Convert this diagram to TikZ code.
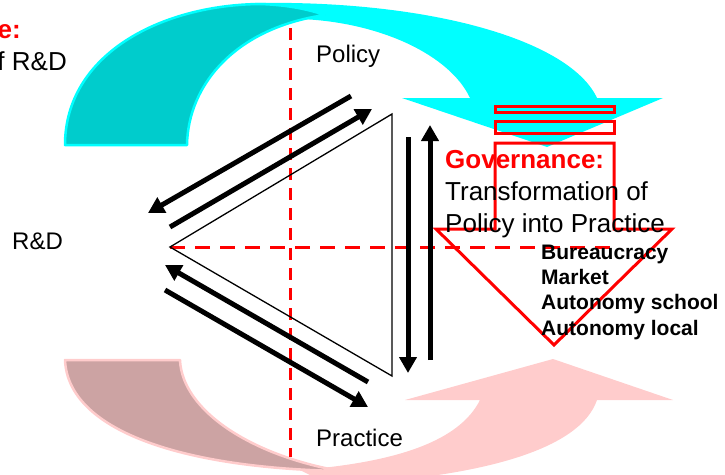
\documentclass[tikz,border=0pt]{standalone}
\usepackage{fontspec}
\setmainfont{Liberation Sans}
\usetikzlibrary{arrows.meta}
\definecolor{AquaFront}{HTML}{00FFFF}
\definecolor{AquaBack}{HTML}{00CCCC}
\definecolor{RoseFront}{HTML}{FFCCCC}
\definecolor{RoseBack}{HTML}{CCA3A3}
\definecolor{GovRed}{HTML}{FF0000}
\newcommand{\lblfont}{\fontsize{24}{29}\selectfont}
\newcommand{\govfont}{\fontsize{26}{32}\selectfont}
\newcommand{\modefont}{\fontsize{21}{25.3}\selectfont\bfseries}

\begin{document}
\begin{tikzpicture}[x=1pt, y=-1pt, font=\lblfont,
    flow/.style={line width=5pt, -{Triangle[length=16pt, width=17pt]}},
    axis/.style={GovRed, line width=3pt},
    txt/.style={inner sep=0pt, anchor=base west}]
    \useasboundingbox (0,0) rectangle (725,474);
    \clip (0,0) rectangle (725,474);
    % upper ribbon: front face with its head, then the turned-back face
    \fill[AquaFront] (255,3) .. controls (430,0) and (570,40) .. (597,98)
        -- (663,98) -- (547,147) -- (402,98) -- (470,98)
        .. controls (450,55) and (380,22) .. (300,19) -- cycle;
    \filldraw[fill=AquaBack, draw=AquaFront, line width=2.5pt, line join=round]
        (65,145) .. controls (65,55) and (160,5) .. (260,4)
        .. controls (290,5) and (310,10) .. (325,15)
        .. controls (235,28) and (188,85) .. (187,145) -- cycle;
    % lower ribbon, same build
    \fill[RoseFront] (300,470) .. controls (400,462) and (460,440) .. (480,400)
        -- (405,400) -- (553,359) -- (673,400) -- (597,400)
        .. controls (580,450) and (480,478) .. (330,485) -- cycle;
    \filldraw[fill=RoseBack, draw=RoseFront, line width=2.5pt, line join=round]
        (65,360) .. controls (68,430) and (180,468) .. (340,471)
        .. controls (250,455) and (182,410) .. (180,360) -- cycle;
    % governance symbol (striped down arrow)
    \draw[GovRed, line width=3pt] (495,106) rectangle (614,112);
    \draw[GovRed, line width=3pt] (495,121) rectangle (614,133);
    \draw[GovRed, line width=3pt] (495,229) -- (495,143) -- (614,143) -- (614,229)
        -- (672,229) -- (554,345) -- (436,229) -- cycle;
    % cross hairs
    \draw[axis, dash pattern=on 12pt off 8pt] (290,28) -- (290,457);
    \draw[axis, dash pattern=on 15pt off 10pt] (170,247) -- (617,247);
    % the triangle
    \coordinate (rd) at (170,247);
    \coordinate (pol) at (392,114);
    \coordinate (pra) at (392,376);
    \draw[line width=1.3pt] (rd) -- (pol) -- (pra) -- cycle;
    % exchange arrows along the sides
    \coordinate (a1s) at (351,96);   \coordinate (a1e) at (148,213);
    \coordinate (a2s) at (170,227);  \coordinate (a2e) at (372,109);
    \coordinate (a3s) at (368,382);  \coordinate (a3e) at (165,265);
    \coordinate (a4s) at (165,290);  \coordinate (a4e) at (368,407);
    \coordinate (a5s) at (408,137);  \coordinate (a5e) at (408,373);
    \coordinate (a6s) at (430,360);  \coordinate (a6e) at (430,125);
    \draw[flow] (a1s) -- (a1e);
    \draw[flow] (a2s) -- (a2e);
    \draw[flow] (a3s) -- (a3e);
    \draw[flow] (a4s) -- (a4e);
    \draw[flow] (a5s) -- (a5e);
    \draw[flow] (a6s) -- (a6e);
    % corner labels
    \node[txt] (policy) at (316,62) {Policy};
    \node[txt] (rdlbl) at (12,249) {R\&D};
    \node[txt] (practice) at (316,446) {Practice};
    % text blocks (base = last line)
    \node[inner sep=0pt, anchor=base east, font=\govfont\bfseries, text=GovRed] (cuta) at (21,38) {e:};
    \node[inner sep=0pt, anchor=base east, font=\govfont] (cutb) at (67,70) {f R\&D};
    \node[txt, font=\govfont, align=left] (gov) at (445,232)
        {\textcolor{GovRed}{\textbf{Governance:}}\\Transformation of\\Policy into Practice};
    \node[txt, font=\modefont, align=left] (modes) at (541,335)
        {Bureaucracy\\Market\\Autonomy school\\Autonomy local};
\end{tikzpicture}
\end{document}
